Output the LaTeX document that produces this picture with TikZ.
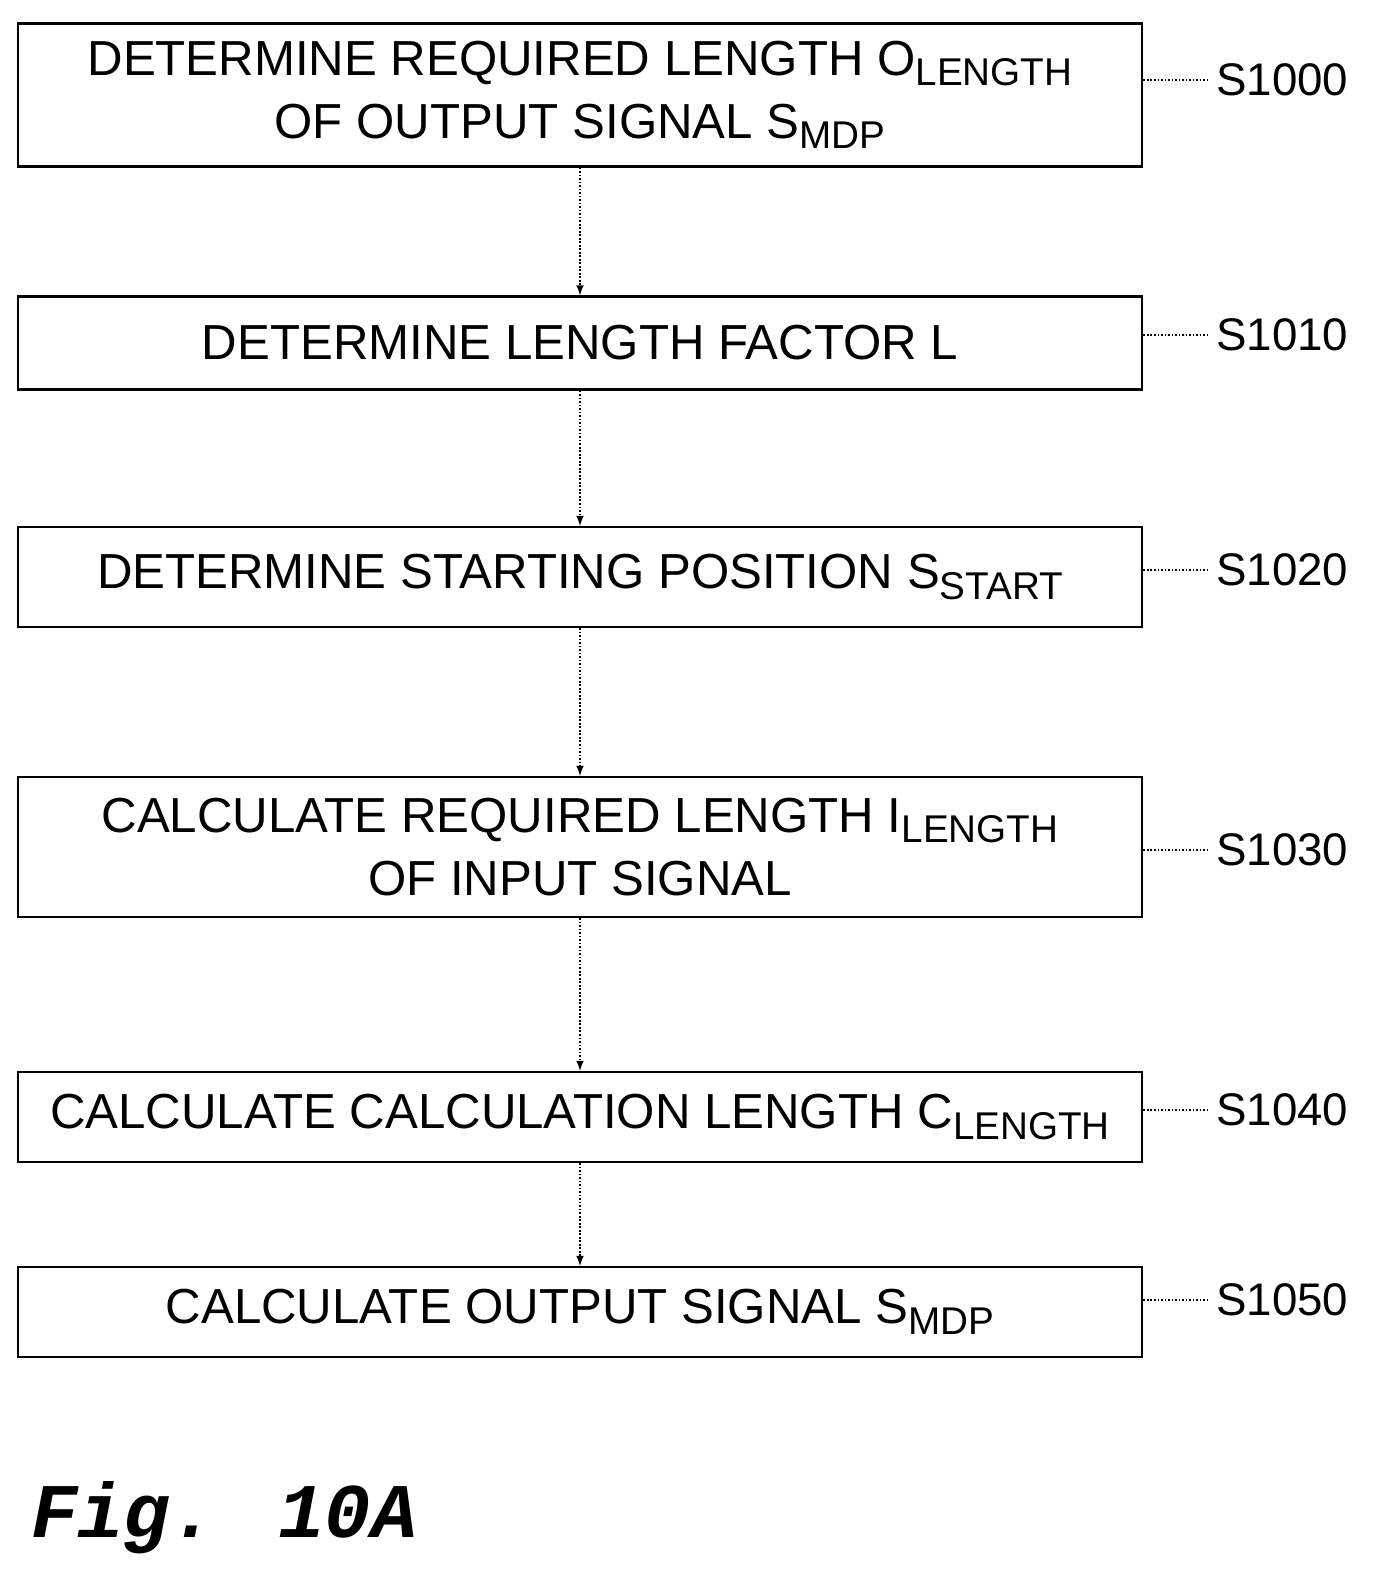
\documentclass[tikz,border=0pt]{standalone}
\usepackage{fontspec}
\setmainfont{Liberation Sans}
\newfontfamily\figfont{Liberation Mono}
\usetikzlibrary{positioning,arrows}
\newcommand{\lowsub}[1]{\raisebox{-0.4ex}{\fontsize{22}{22}\selectfont #1}}
\begin{document}
\begin{tikzpicture}[
        x=0.02cm,y=-0.02cm,
        stepbox/.style={
          draw,
          line width=1.2pt,
          minimum width=22.5cm,
          align=center,
          font=\fontsize{28}{36}\selectfont
          },
        steplabel/.style={
          font=\fontsize{26}{32}\selectfont,
          anchor=west
          },
        leader/.style={
          densely dotted,
          line width=1pt
          },
        >=latex
        ]
        \useasboundingbox (0,0) rectangle (1399,1584);
        \node[stepbox, minimum height=2.86cm] (s1000) at (580,95)
          {DETERMINE REQUIRED LENGTH O\lowsub{LENGTH}\\OF OUTPUT SIGNAL S\lowsub{MDP}};
        \node[stepbox, minimum height=1.86cm] (s1010) at (580,343)
          {DETERMINE LENGTH FACTOR L};
        \node[stepbox, minimum height=2cm] (s1020) at (580,577)
          {DETERMINE STARTING POSITION S\lowsub{START}};
        \node[stepbox, minimum height=2.8cm] (s1030) at (580,847)
          {CALCULATE REQUIRED LENGTH I\lowsub{LENGTH}\\OF INPUT SIGNAL};
        \node[stepbox, minimum height=1.8cm] (s1040) at (580,1117)
          {CALCULATE CALCULATION LENGTH C\lowsub{LENGTH}};
        \node[stepbox, minimum height=1.8cm] (s1050) at (580,1312)
          {CALCULATE OUTPUT SIGNAL S\lowsub{MDP}};
        % step numbers with dotted leaders
        \foreach \st/\yy in {1000/80,1010/335,1020/570,1030/850,1040/1110,1050/1300}
        {
          \node[steplabel] (l\st) at (1210,\yy) {S\st};
          \draw[leader] (s\st.east |- l\st) -- (l\st.west);
        }
        \foreach \a/\b in {s1000/s1010,s1010/s1020,s1020/s1030,s1030/s1040,s1040/s1050}
          \draw[->, leader] (\a) -- (\b);
        \node[anchor=west, font=\figfont\bfseries\itshape\fontsize{44}{44}\selectfont] (fig) at (25,1518) {Fig. 10A};
\end{tikzpicture}
\end{document}
